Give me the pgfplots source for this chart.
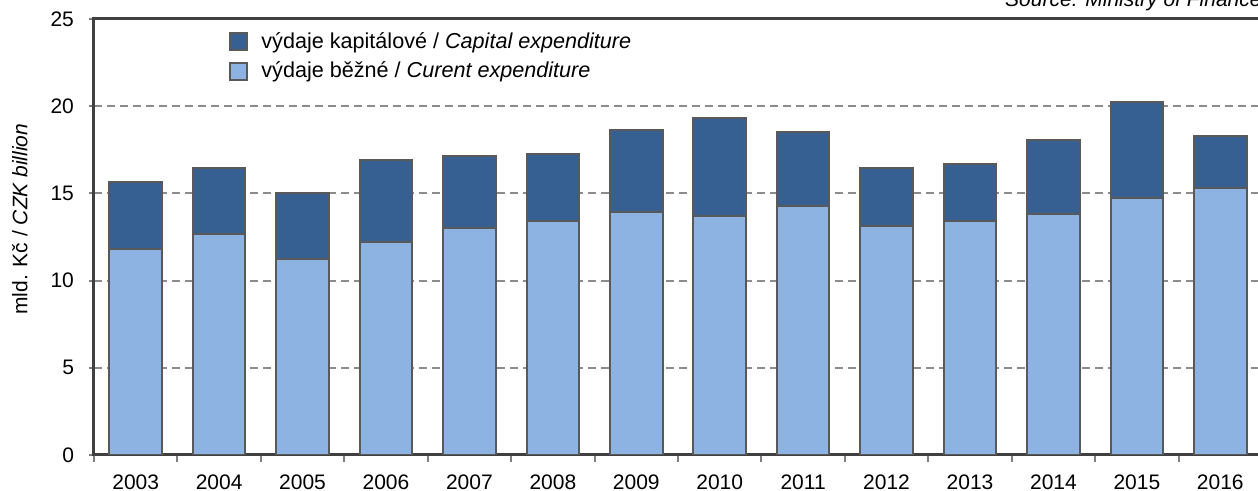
\documentclass[border=0pt]{standalone}
\usepackage{fontspec}
\setmainfont{Liberation Sans}
\usepackage{pgfplots}
\usepackage{pgfplotstable}
\pgfplotsset{compat=1.18}
\definecolor{capblue}{HTML}{366092}
\definecolor{curblue}{HTML}{8DB3E2}
\definecolor{edgegray}{HTML}{595959}
\definecolor{gridgray}{HTML}{8C8C8C}
\definecolor{axgray}{HTML}{7F7F7F}
\definecolor{axdark}{HTML}{404040}
\pgfplotstableread{
x cur cap
0 11.80 3.88
1 12.70 3.78
2 11.23 3.78
3 12.24 4.68
4 13.03 4.14
5 13.39 3.88
6 13.94 4.70
7 13.71 5.62
8 14.29 4.24
9 13.14 3.34
10 13.39 3.30
11 13.83 4.24
12 14.75 5.50
13 15.30 3.00
}\datatable
\begin{document}
\begin{tikzpicture}
\useasboundingbox (-47pt,-18pt) rectangle (582pt,227.5pt);
\clip (-47pt,-18pt) rectangle (582pt,227.5pt);
\begin{axis}[
  scale only axis, width=584pt, height=218pt,
  xmin=-0.5, xmax=13.5, ymin=0, ymax=25,
  ybar stacked, bar width=0.63,
  x axis line style={axgray, line width=1pt},
  y axis line style={axdark, line width=1.5pt},
  tick pos=left, tick align=outside,
  xtick={0,...,13},
  xticklabels={2003,2004,2005,2006,2007,2008,2009,2010,2011,2012,2013,2014,2015,2016},
  major x tick style={draw=none},
  minor xtick={-0.5,0.5,...,12.5},
  minor tick length=3.5pt, major tick length=2.5pt,
  tick style={axgray, line width=1pt},
  ytick={0,5,...,25},
  ymajorgrids,
  grid style={gridgray, dash pattern=on 4pt off 2.5pt, line width=1pt},
  /pgf/number format/assume math mode=true,
  tick label style={font=\fontsize{10.5}{12}\selectfont, text=black},
  yticklabel style={xshift=-4pt},
  xticklabel style={inner sep=0pt, yshift=-7pt},
  ylabel={mld. Kč / \textit{CZK billion}},
  ylabel style={at={(axis description cs:-0.0636,0.541)}, anchor=center, font=\fontsize{10.5}{12}\selectfont},
  legend style={draw=none, fill=none, at={(axis description cs:0.1156,0.98)}, anchor=north west,
    font=\fontsize{10.8}{12}\selectfont, row sep=1.5pt, inner sep=0pt,
    nodes={inner xsep=6.5pt}},
  legend cell align=left,
  reverse legend,
  legend image code/.code={\draw[#1] (0pt,-4.25pt) rectangle (8.5pt,4.25pt);},
]
\addplot[fill=curblue, draw=edgegray, line width=1pt] table[x=x, y=cur] {\datatable};
\addplot[fill=capblue, draw=edgegray, line width=1pt] table[x=x, y=cap] {\datatable};
\legend{výdaje běžné / \textit{Curent expenditure}, výdaje kapitálové / \textit{Capital expenditure}}
\end{axis}
\node[anchor=base east, font=\fontsize{10.5}{12}\selectfont\itshape, inner sep=0pt] at (584pt,224pt) {Source: Ministry of Finance};
\end{tikzpicture}
\end{document}
